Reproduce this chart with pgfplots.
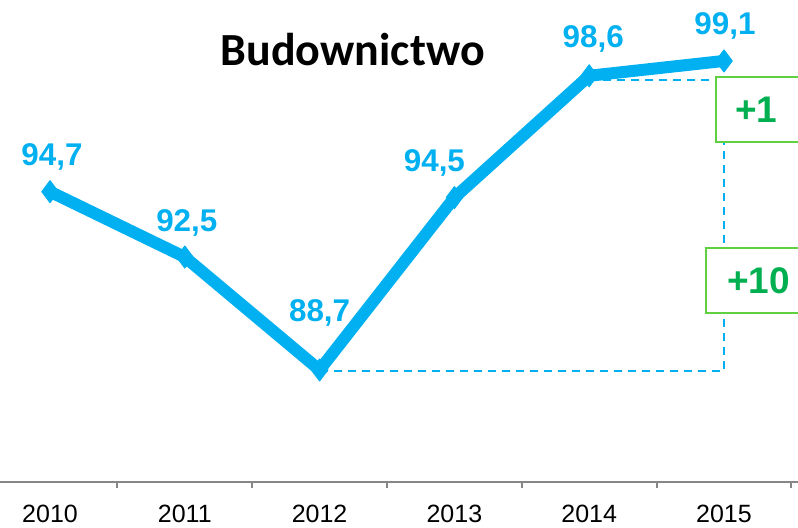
\documentclass[border=0pt]{standalone}
\usepackage{fontspec}
\setmainfont{Liberation Sans}
\newfontfamily\titlefont{Carlito}
\usepackage{pgfplots}
\pgfplotsset{compat=1.18}
\definecolor{lineblue}{RGB}{0,176,240}
\definecolor{txtgreen}{RGB}{0,176,80}
\definecolor{boxgreen}{RGB}{96,208,64}
\definecolor{axgray}{RGB}{134,134,134}
\tikzset{lbl/.style={font=\bfseries\fontsize{15.7}{17}\selectfont, text=lineblue, anchor=base, inner sep=0pt}}
\begin{document}
\begin{tikzpicture}
\useasboundingbox (0,-22.5pt) rectangle (399pt,241pt);
\clip (0,-22.5pt) rectangle (399pt,241pt);
\begin{axis}[at={(0,0)}, anchor=south west, scale only axis,
  width=399pt, height=241pt,
  xmin=-0.371, xmax=5.549, ymin=84.93, ymax=101.15,
  axis x line*=bottom, axis y line=none,
  x axis line style={draw=axgray, line width=0.9pt, -},
  xtick={0,...,5}, xticklabels={2010,2011,2012,2013,2014,2015},
  major tick length=0pt,
  minor xtick={-0.5,0.5,1.5,2.5,3.5,4.5,5.5},
  minor tick length=3.2pt, tick align=outside,
  tick style={axgray, line width=0.9pt},
  minor tick style={axgray, line width=1pt},
  xticklabel style={font=\fontsize{12.5}{14}\selectfont, anchor=base, yshift=-20pt},
  clip=false,
]
% dashed guides
\addplot[lineblue, line width=1pt, dash pattern=on 4pt off 3pt] coordinates {(4,98.46) (5,98.46)};
\addplot[lineblue, line width=1pt, dash pattern=on 4pt off 3pt] coordinates {(2,88.68) (5,88.68) (5,98.46)};
% boxes
\draw[boxgreen, line width=1pt, fill=white] (axis cs:4.94,96.37) rectangle (axis cs:5.8,98.56);
\draw[boxgreen, line width=1pt, fill=white] (axis cs:4.866,90.62) rectangle (axis cs:5.8,92.805);
\node[font=\bfseries\fontsize{18.5}{20}\selectfont, text=txtgreen] at (axis cs:5.24,97.46) {+1};
\node[font=\bfseries\fontsize{18.5}{20}\selectfont, text=txtgreen] at (axis cs:5.256,91.71) {+10};
% main series
\addplot[lineblue, line width=6pt, line join=round, mark=diamond*, mark size=5.5pt,
  mark options={solid, line width=0.5pt, fill=lineblue}]
  coordinates {(0,94.7) (1,92.5) (2,88.7) (3,94.5) (4,98.6) (5,99.1)};
% data labels
\node[lbl, xshift=1pt, yshift=13pt] at (axis cs:0,94.7) {94,7};
\node[lbl, xshift=1pt, yshift=13pt] at (axis cs:1,92.5) {92,5};
\node[lbl, yshift=24pt] at (axis cs:2,88.7) {88,7};
\node[lbl, xshift=-10pt, yshift=13pt] at (axis cs:3,94.5) {94,5};
\node[lbl, xshift=2pt, yshift=14pt] at (axis cs:4,98.6) {98,6};
\node[lbl, xshift=0.5pt, yshift=13pt] at (axis cs:5,99.1) {99,1};
% title
\node[font=\titlefont\bfseries\fontsize{23}{26}\selectfont, anchor=base, inner sep=0pt] at (rel axis cs:0.442,0.865) {Budownictwo};
\end{axis}
\end{tikzpicture}
\end{document}
